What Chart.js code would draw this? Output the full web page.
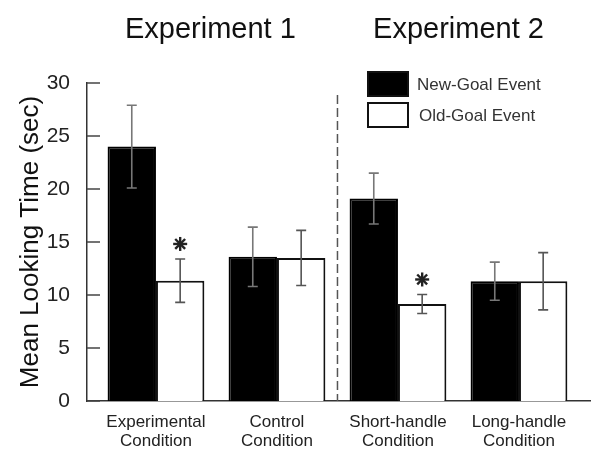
<!DOCTYPE html>
<html lang="en">
<head>
  <meta charset="UTF-8">
  <title>Mean Looking Time - Experiments 1 and 2</title>
  <script src="https://cdn.jsdelivr.net/npm/chart.js"></script>
  <style>
    body {
      margin: 0;
      background: #fff;
    }
    canvas {
      display: block;
    }
  </style>
</head>
<body>
  <canvas id="lookChart" width="600" height="452"></canvas>

  <script>
    const conditions = [
      ['Experimental', 'Condition'],
      ['Control', 'Condition'],
      ['Short-handle', 'Condition'],
      ['Long-handle', 'Condition']
    ];
    const experiments = ['Experiment 1', 'Experiment 2'];
    const newGoal = [24.0, 13.6, 19.1, 11.3];
    const newGoalErr = [3.9, 2.8, 2.4, 1.8];
    const oldGoal = [11.35, 13.5, 9.15, 11.3];
    const oldGoalErr = [2.05, 2.6, 0.9, 2.7];
    const oldGoalStar = [true, false, true, false];

    const FONT = '"Liberation Sans", Arial, Helvetica, sans-serif';

    // error bars, asterisks, inward y ticks, dashed divider, titles and legend
    const extras = {
      id: 'extras',
      afterDatasetsDraw(chart) {
        const ctx = chart.ctx;
        const x = chart.scales.x;
        const y = chart.scales.y;
        const area = chart.chartArea;
        const errs = [newGoalErr, oldGoalErr];
        const vals = [newGoal, oldGoal];

        ctx.save();

        // y tick marks pointing inward
        ctx.strokeStyle = '#444';
        ctx.lineWidth = 1.5;
        y.ticks.forEach(t => {
          const py = y.getPixelForValue(t.value);
          ctx.beginPath();
          ctx.moveTo(area.left, py);
          ctx.lineTo(area.left + 13, py);
          ctx.stroke();
        });

        // error bars
        ctx.lineWidth = 1.6;
        chart.data.datasets.forEach((ds, d) => {
          ctx.strokeStyle = d === 0 ? '#777' : '#555';
          chart.getDatasetMeta(d).data.forEach((bar, i) => {
            const top = y.getPixelForValue(vals[d][i] + errs[d][i]);
            const bot = y.getPixelForValue(vals[d][i] - errs[d][i]);
            ctx.beginPath();
            ctx.moveTo(bar.x, top);
            ctx.lineTo(bar.x, bot);
            ctx.moveTo(bar.x - 5, top);
            ctx.lineTo(bar.x + 5, top);
            ctx.moveTo(bar.x - 5, bot);
            ctx.lineTo(bar.x + 5, bot);
            ctx.stroke();
          });
        });

        // asterisks over significant old-goal bars
        ctx.strokeStyle = '#222';
        ctx.lineWidth = 2.4;
        chart.getDatasetMeta(1).data.forEach((bar, i) => {
          if (!oldGoalStar[i]) return;
          const cy = y.getPixelForValue(oldGoal[i] + oldGoalErr[i]) - 15;
          for (let k = 0; k < 4; k++) {
            const a = k * Math.PI / 4;
            ctx.beginPath();
            ctx.moveTo(bar.x - 7 * Math.cos(a), cy - 7 * Math.sin(a));
            ctx.lineTo(bar.x + 7 * Math.cos(a), cy + 7 * Math.sin(a));
            ctx.stroke();
          }
        });

        // dashed divider between experiments
        const dx = x.getPixelForValue(2.5);
        ctx.strokeStyle = '#555';
        ctx.lineWidth = 1.5;
        ctx.setLineDash([9, 4]);
        ctx.beginPath();
        ctx.moveTo(dx, 95);
        ctx.lineTo(dx, area.bottom);
        ctx.stroke();
        ctx.setLineDash([]);

        // experiment titles
        ctx.fillStyle = '#111';
        ctx.font = '29px ' + FONT;
        ctx.textAlign = 'center';
        ctx.textBaseline = 'alphabetic';
        ctx.fillText(experiments[0], x.getPixelForValue(1.45), 38);
        ctx.fillText(experiments[1], x.getPixelForValue(3.5), 38);

        // legend
        ctx.textAlign = 'left';
        ctx.textBaseline = 'middle';
        ctx.font = '17px ' + FONT;
        chart.data.datasets.forEach((ds, d) => {
          const by = 72 + d * 31;
          ctx.fillStyle = ds.backgroundColor;
          ctx.fillRect(368, by, 40, 24);
          ctx.strokeStyle = '#111';
          ctx.lineWidth = 2;
          ctx.strokeRect(368, by, 40, 24);
          ctx.fillStyle = '#333';
          ctx.fillText(ds.label, 417 + d * 2, by + 13);
        });

        ctx.restore();
      }
    };

    const ctx = document.getElementById('lookChart').getContext('2d');

    new Chart(ctx, {
      type: 'bar',
      data: {
        datasets: [
          {
            label: 'New-Goal Event',
            data: newGoal.map((v, i) => ({ x: i + 1, y: v })),
            backgroundColor: '#000',
            borderColor: '#000',
            borderWidth: 2
          },
          {
            label: 'Old-Goal Event',
            data: oldGoal.map((v, i) => ({ x: i + 1, y: v })),
            backgroundColor: '#fff',
            borderColor: '#111',
            borderWidth: 2
          }
        ]
      },
      options: {
        responsive: false,
        animation: false,
        barPercentage: 1,
        categoryPercentage: 0.8,
        layout: { padding: { top: 83, right: 10, left: 0, bottom: 0 } },
        plugins: {
          legend: { display: false },
          tooltip: { enabled: false }
        },
        scales: {
          x: {
            type: 'linear',
            offset: false,
            min: 0.43,
            max: 4.587,
            grid: { display: false },
            border: { display: true, color: '#333', width: 1.5 },
            ticks: {
              stepSize: 1,
              includeBounds: false,
              maxRotation: 0,
              autoSkip: false,
              padding: 4,
              color: '#222',
              font: { family: FONT, size: 17, lineHeight: 1.12 },
              callback: v => Number.isInteger(v) ? conditions[v - 1] : ''
            },
            afterFit: s => { s.height = 51; }
          },
          y: {
            min: 0,
            max: 30,
            grid: { display: false },
            border: { display: true, color: '#333', width: 1.5 },
            ticks: {
              stepSize: 5,
              padding: 9,
              color: '#222',
              font: { family: FONT, size: 21 }
            },
            title: {
              display: true,
              text: 'Mean Looking Time (sec)',
              color: '#111',
              font: { family: FONT, size: 26 },
              padding: { top: 15, bottom: 0 }
            },
            afterFit: s => { s.width = 87; }
          }
        }
      },
      plugins: [extras]
    });
  </script>
</body>
</html>
